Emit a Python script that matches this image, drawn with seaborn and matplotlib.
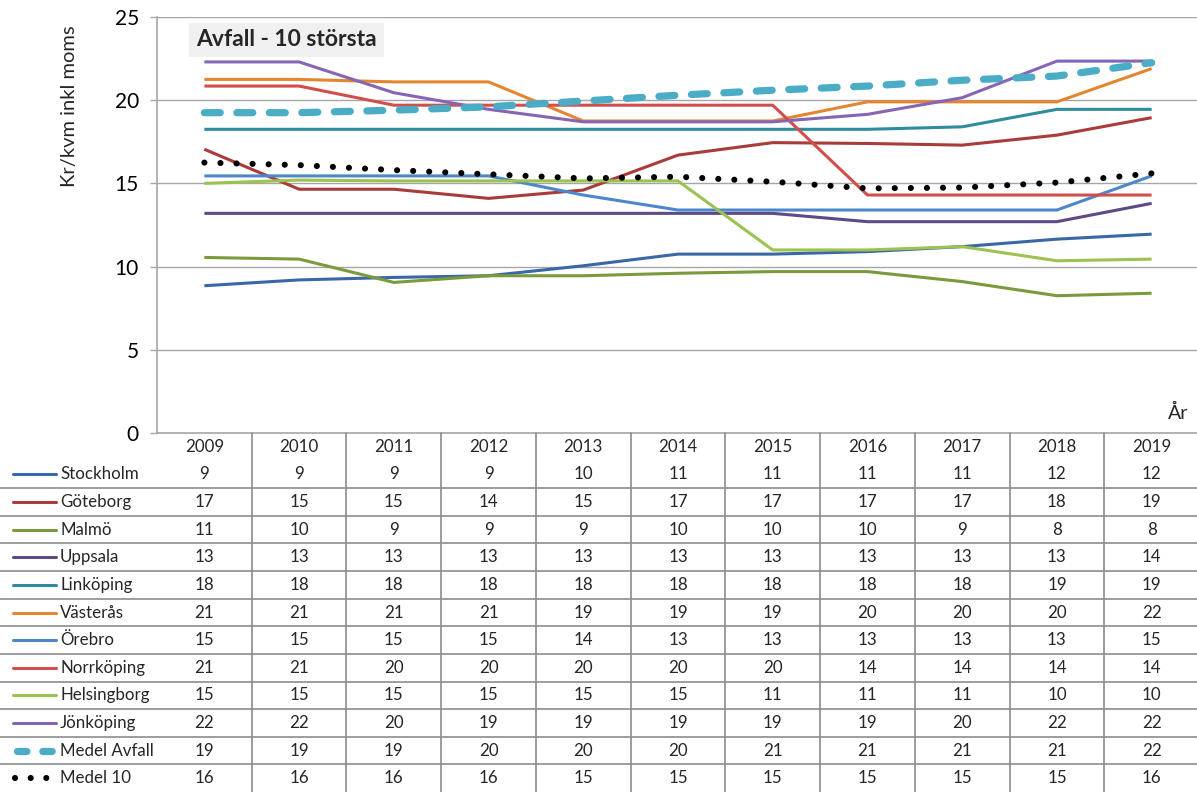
import numpy as np
import pandas as pd
import matplotlib
matplotlib.use("Agg")
import matplotlib.pyplot as plt
import matplotlib.transforms as mtransforms
import seaborn as sns

years = ["2009", "2010", "2011", "2012", "2013", "2014", "2015", "2016", "2017", "2018", "2019"]

stockholm = [8.85, 9.2, 9.35, 9.45, 10.05, 10.75, 10.75, 10.9, 11.2, 11.65, 11.95]
goteborg = [17.05, 14.65, 14.65, 14.1, 14.6, 16.7, 17.45, 17.4, 17.3, 17.9, 18.95]
malmo = [10.55, 10.45, 9.05, 9.45, 9.45, 9.6, 9.7, 9.7, 9.1, 8.25, 8.4]
uppsala = [13.2, 13.2, 13.2, 13.2, 13.2, 13.2, 13.2, 12.7, 12.7, 12.7, 13.8]
linkoping = [18.25, 18.25, 18.25, 18.25, 18.25, 18.25, 18.25, 18.25, 18.4, 19.45, 19.45]
vasteras = [21.25, 21.25, 21.1, 21.1, 18.75, 18.75, 18.75, 19.9, 19.9, 19.9, 21.9]
orebro = [15.45, 15.45, 15.45, 15.45, 14.3, 13.4, 13.4, 13.4, 13.4, 13.4, 15.45]
norrkoping = [20.85, 20.85, 19.7, 19.7, 19.7, 19.7, 19.7, 14.3, 14.3, 14.3, 14.3]
helsingborg = [15.0, 15.2, 15.15, 15.15, 15.15, 15.15, 11.0, 11.0, 11.2, 10.35, 10.45]
jonkoping = [22.3, 22.3, 20.45, 19.45, 18.7, 18.7, 18.7, 19.15, 20.15, 22.35, 22.35]
medel_avfall = [19.25, 19.25, 19.4, 19.6, 19.95, 20.3, 20.6, 20.85, 21.2, 21.45, 22.25]
medel_10 = [16.25, 16.1, 15.8, 15.55, 15.3, 15.4, 15.1, 14.7, 14.75, 15.05, 15.6]

series_names = ["Stockholm", "Göteborg", "Malmö", "Uppsala", "Linköping", "Västerås",
                "Örebro", "Norrköping", "Helsingborg", "Jönköping", "Medel Avfall", "Medel 10"]
series_values = [stockholm, goteborg, malmo, uppsala, linkoping, vasteras,
                 orebro, norrkoping, helsingborg, jonkoping, medel_avfall, medel_10]
series_colors = ["#3A67A8", "#A93B3A", "#7A9A3C", "#5E4A85", "#2E8C9E", "#E4862E",
                 "#4E86CC", "#D24E4B", "#9CC24F", "#8765B6", "#4BACC6", "#000000"]

title_text = "Avfall - 10 största"
ylabel_text = "Kr/kvm inkl moms"
xlabel_text = "År"
yticks = [0, 5, 10, 15, 20, 25]

sns.set_theme(style="white")
plt.rcParams["font.family"] = ["Lato", "DejaVu Sans"]

W, H = 1197, 792
fig = plt.figure(figsize=(W / 100, H / 100), dpi=100)


def fx(px):
    return px / W


def fy(py):
    return 1 - py / H


ax_left, ax_right, ax_top, ax_bot = 157, 1199, 17, 433
ax = fig.add_axes([fx(ax_left), fy(ax_bot), fx(ax_right) - fx(ax_left), fy(ax_top) - fy(ax_bot)])
pos = np.arange(len(years))

grid_c = "#A6A6A6"
for v in yticks[1:]:
    ax.axhline(v, color=grid_c, lw=1.0, zorder=0)

for name, vals, col in zip(series_names, series_values, series_colors):
    df = pd.DataFrame({"x": pos, "y": vals})
    if name == "Medel Avfall":
        sns.lineplot(data=df, x="x", y="y", ax=ax, color=col, lw=5.2, legend=False, zorder=5)
        ln = ax.lines[-1]
        ln.set_dashes([2.2, 2.3])
        ln.set_dash_capstyle("round")
    elif name == "Medel 10":
        sns.lineplot(data=df, x="x", y="y", ax=ax, color=col, lw=4.4, legend=False, zorder=6)
        ln = ax.lines[-1]
        ln.set_dashes([0.01, 2.62])
        ln.set_dash_capstyle("round")
    else:
        sns.lineplot(data=df, x="x", y="y", ax=ax, color=col, lw=2.2, legend=False, zorder=3)
        ax.lines[-1].set_solid_capstyle("butt")

ax.set_xlim(-0.5, len(years) - 0.5)
ax.set_ylim(0, 25)
ax.set_yticks(yticks)
ax.set_yticklabels([str(t) for t in yticks], fontsize=15, color="#000000")
ax.set_xticks([])
ax.set_xlabel("")
ax.set_ylabel("")
ax.tick_params(axis="y", length=5, width=1, color=grid_c, pad=8, left=True)
for s in ["top", "right"]:
    ax.spines[s].set_visible(False)
ax.spines["left"].set_color(grid_c)
ax.spines["bottom"].set_color(grid_c)
ax.spines["left"].set_linewidth(1.2)
ax.spines["bottom"].set_linewidth(1.2)
ax.patch.set_alpha(0)

# title box
fig.text(fx(196), fy(40), title_text, fontsize=16.5, fontweight="bold", ha="left", va="center",
         bbox=dict(boxstyle="square,pad=0.3", fc="#F0F0F0", ec="none"))
# y label
fig.text(fx(70), fy(106), ylabel_text, rotation=90, fontsize=14.5, ha="center", va="center")
# x label
fig.text(fx(1178), fy(413), xlabel_text, fontsize=14, ha="center", va="center")

# data table
n_rows = len(series_names) + 1
ax_t = fig.add_axes([fx(ax_left), 0, fx(ax_right) - fx(ax_left), fy(ax_bot)], sharex=ax)
ax_t.set_ylim(n_rows, 0)
ax_t.axis("off")
line_c = "#8C8C8C"
tfs = 12.2
for i, y in enumerate(years):
    ax_t.text(i, 0.5, y, ha="center", va="center", fontsize=tfs)
for k in range(len(years) - 1):
    ax_t.plot([k + 0.5, k + 0.5], [0, n_rows], color=line_c, lw=1.2, clip_on=False)

blend = mtransforms.blended_transform_factory(fig.transFigure, ax_t.transData)
for r in range(2, n_rows):
    ax_t.plot([0, 1], [r, r], color=line_c, lw=1.2, transform=blend, clip_on=False)

for r, (name, vals, col) in enumerate(zip(series_names, series_values, series_colors), start=1):
    yc = r + 0.5
    for i, v in enumerate(vals):
        ax_t.text(i, yc, f"{int(np.floor(v + 0.5))}", ha="center", va="center", fontsize=tfs)
    ax_t.text(fx(60), yc, name, ha="left", va="center", fontsize=tfs, transform=blend)
    if name == "Medel Avfall":
        ax_t.plot([fx(17), fx(54)], [yc, yc], color=col, lw=5.2, transform=blend, clip_on=False,
                  dashes=[1.3, 2.2], dash_capstyle="round")
    elif name == "Medel 10":
        ax_t.plot([fx(15), fx(49)], [yc, yc], color=col, lw=4.4, transform=blend, clip_on=False,
                  dashes=[0.01, 2.55], dash_capstyle="round")
    else:
        ax_t.plot([fx(13), fx(56)], [yc, yc], color=col, lw=2.2, transform=blend, clip_on=False)

fig.savefig("out.png", dpi=100)
